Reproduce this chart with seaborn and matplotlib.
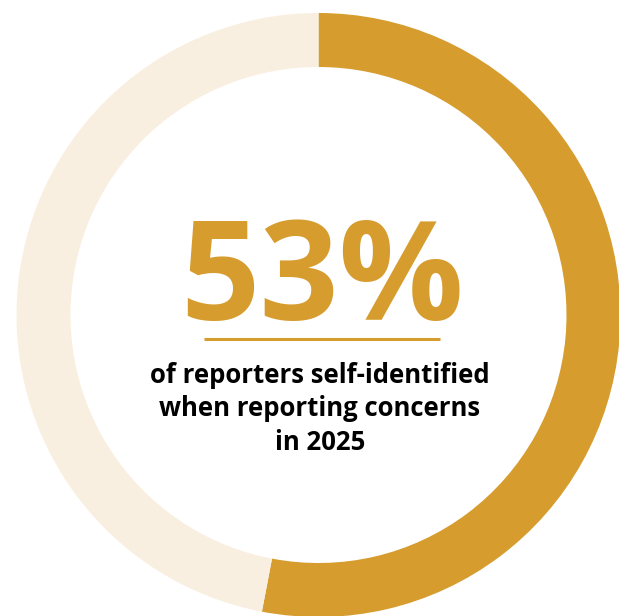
import matplotlib
matplotlib.use("Agg")
import matplotlib.pyplot as plt
import seaborn as sns

# Share of reporters who self-identified vs. stayed anonymous
categories = ["Self-identified", "Anonymous"]
shares = [53, 47]
headline = "53%"
caption_lines = ["of reporters self-identified", "when reporting concerns", "in 2025"]

gold = "#D69C2E"
cream = "#F9EFE0"

sns.set_theme(style="white")
plt.rcParams["font.family"] = ["Open Sans", "DejaVu Sans"]

W, H = 619, 616
fig = plt.figure(figsize=(W / 100, H / 100), dpi=100)
ax = fig.add_axes([0, 0, 1, 1])

ax.pie(
    shares,
    colors=[gold, cream],
    startangle=90,
    counterclock=False,
    center=(318.5, 301),
    radius=302,
    wedgeprops=dict(width=54, linewidth=0),
    frame=True,
)
ax.set_xlim(0, W)
ax.set_ylim(0, H)
ax.set_aspect("equal")
ax.axis("off")

ax.text(322, 296, headline, ha="center", va="baseline", color=gold,
        fontsize=100, fontweight="bold")
ax.plot([204, 440], [277, 277], color=gold, linewidth=2.2, solid_capstyle="butt")

for i, line in enumerate(caption_lines):
    ax.text(320, 233 - i * 33.5, line, ha="center", va="baseline",
            color="black", fontsize=18.5, fontweight="bold")

fig.savefig("out.png", dpi=100, facecolor="white")
